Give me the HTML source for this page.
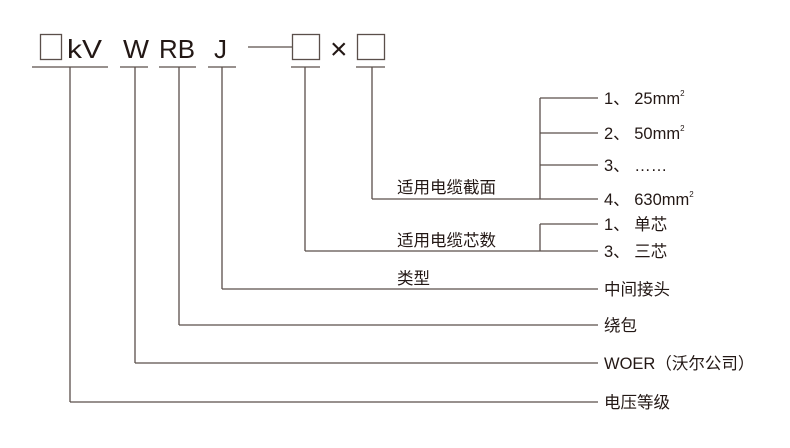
<!DOCTYPE html>
<html><head><meta charset="utf-8"><style>
html,body{margin:0;padding:0;background:#fff;}
svg text{font-family:"Liberation Sans","Noto Sans CJK SC",sans-serif;fill:#231815;}
</style></head><body>
<svg width="790" height="443" viewBox="0 0 790 443" xmlns="http://www.w3.org/2000/svg">
<g fill="none" stroke="#5a4f4a" stroke-width="1.3">
<rect x="40.5" y="34.5" width="21" height="25"/>
<rect x="292.5" y="34.5" width="27" height="25"/>
<rect x="357.5" y="34.5" width="27" height="25"/>
<line x1="248" y1="47" x2="292" y2="47"/>
<line x1="32" y1="67" x2="108" y2="67"/>
<line x1="120" y1="67" x2="148" y2="67"/>
<line x1="159" y1="67" x2="196" y2="67"/>
<line x1="208" y1="67" x2="236" y2="67"/>
<line x1="291" y1="67" x2="320" y2="67"/>
<line x1="356" y1="67" x2="385" y2="67"/>
<line x1="70" y1="67" x2="70" y2="402"/>
<line x1="135" y1="67" x2="135" y2="363"/>
<line x1="179" y1="67" x2="179" y2="325"/>
<line x1="222" y1="67" x2="222" y2="289"/>
<line x1="305" y1="67" x2="305" y2="251"/>
<line x1="372" y1="67" x2="372" y2="199"/>
<line x1="372" y1="199" x2="598" y2="199"/>
<line x1="305" y1="251" x2="598" y2="251"/>
<line x1="222" y1="289" x2="598" y2="289"/>
<line x1="179" y1="325" x2="598" y2="325"/>
<line x1="135" y1="363" x2="598" y2="363"/>
<line x1="70" y1="402" x2="598" y2="402"/>
<line x1="540" y1="98" x2="540" y2="199"/>
<line x1="540" y1="98" x2="598" y2="98"/>
<line x1="540" y1="133" x2="598" y2="133"/>
<line x1="540" y1="165" x2="598" y2="165"/>
<line x1="540" y1="224" x2="540" y2="251"/>
<line x1="540" y1="224" x2="598" y2="224"/>
</g>
<g font-size="26">
<text x="67" y="58" textLength="35" lengthAdjust="spacingAndGlyphs">kV</text>
<text x="123" y="58" textLength="26" lengthAdjust="spacingAndGlyphs">W</text>
<text x="159" y="58" textLength="36" lengthAdjust="spacingAndGlyphs">RB</text>
<text x="214" y="58">J</text>
<text x="330" y="59" font-size="30">×</text>
</g>
<g font-size="16.5">
<text x="397" y="193">适用电缆截面</text>
<text x="397" y="246">适用电缆芯数</text>
<text x="397" y="284">类型</text>
<text x="604" y="104">1、 25mm<tspan font-size="8" dy="-8">2</tspan></text>
<text x="604" y="139">2、 50mm<tspan font-size="8" dy="-8">2</tspan></text>
<text x="604" y="171">3、 ……</text>
<text x="604" y="205">4、 630mm<tspan font-size="8" dy="-8">2</tspan></text>
<text x="604" y="230">1、 单芯</text>
<text x="604" y="257">3、 三芯</text>
<text x="604" y="295">中间接头</text>
<text x="604" y="331">绕包</text>
<text x="604" y="369">WOER（沃尔公司）</text>
<text x="604" y="408">电压等级</text>
</g>
</svg>
</body></html>
